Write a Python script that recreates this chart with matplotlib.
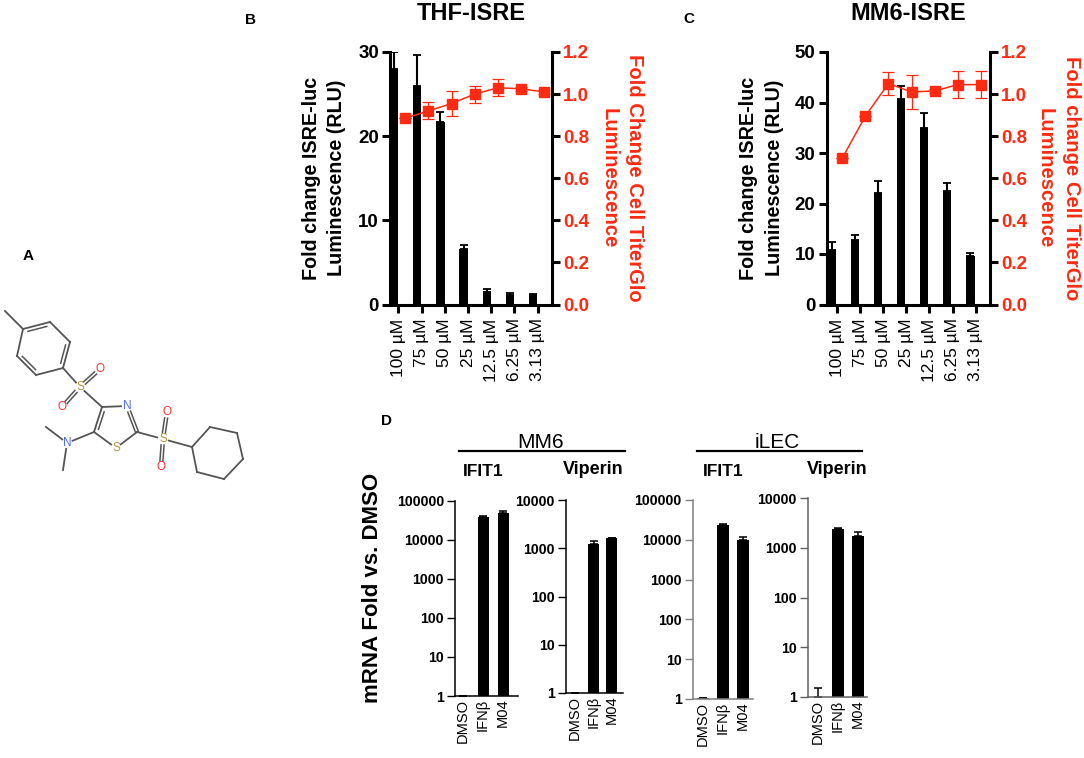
import matplotlib
matplotlib.use("Agg")
import matplotlib.pyplot as plt

plt.rcParams["font.family"] = ["Liberation Sans", "DejaVu Sans"]

W, H = 1084, 758
RED = "#FF2A12"

# ── panel B / C data ─────────────────────────────
DOSES = ["100 µM", "75 µM", "50 µM", "25 µM", "12.5 µM", "6.25 µM", "3.13 µM"]

THF_BARS = [28.0, 26.0, 21.7, 6.6, 1.5, 1.1, 1.1]
THF_BAR_TOPS = [30.0, 29.6, 22.9, 7.1, 1.8, 1.4, 1.3]
THF_RED = [0.885, 0.92, 0.955, 1.0, 1.03, 1.025, 1.01]
THF_RED_ERR = [0.0, 0.04, 0.06, 0.04, 0.04, 0.01, 0.01]

MM6_BARS = [10.7, 12.7, 22.0, 40.6, 35.0, 22.4, 9.6]
MM6_BAR_TOPS = [12.4, 13.7, 24.4, 43.2, 37.9, 24.0, 10.2]
MM6_RED = [0.695, 0.895, 1.05, 1.01, 1.015, 1.045, 1.045]
MM6_RED_ERR = [0.0, 0.0, 0.055, 0.08, 0.01, 0.065, 0.065]

RED_TICKS = [0.0, 0.2, 0.4, 0.6, 0.8, 1.0, 1.2]

# ── panel D data ─────────────────────────────────
TREATMENTS = ["DMSO", "IFNβ", "M04"]
MM6_IFIT1 = [1.0, 38000, 48000]
MM6_IFIT1_TOPS = [1.0, 40000, 56000]
MM6_VIPERIN = [1.0, 1250, 1600]
MM6_VIPERIN_TOPS = [1.0, 1400, 1650]
ILEC_IFIT1 = [1.05, 23000, 9800]
ILEC_IFIT1_TOPS = [1.08, 25000, 12000]
ILEC_VIPERIN = [1.0, 2350, 1700]
ILEC_VIPERIN_TOPS = [1.55, 2450, 2050]

# ── panel A structure, pixel positions ────
ATOMS = {
    "me": (5, 311), "c1": (23, 329), "c2": (50, 322), "c3": (70, 342),
    "c4": (63, 368), "c5": (36, 375), "c6": (17, 356),
    "S1": (80, 387), "O1": (100, 369), "O2": (62, 407),
    "c7": (102, 407), "N1": (127, 406), "c8": (137, 432),
    "S2": (116, 448), "c9": (94, 432),
    "N2": (67, 443), "m1": (46, 427), "m2": (63, 470),
    "S3": (163, 439), "O3": (167, 412), "O4": (161, 467),
    "y1": (192, 447), "y2": (210, 427), "y3": (237, 433),
    "y4": (243, 459), "y5": (224, 479), "y6": (197, 472),
}
SINGLE_BONDS = [
    ("me", "c1"), ("c2", "c3"), ("c4", "c5"), ("c6", "c1"), ("c4", "S1"),
    ("S1", "c7"), ("c7", "N1"), ("c8", "S2"), ("S2", "c9"), ("c9", "N2"),
    ("N2", "m1"), ("N2", "m2"), ("c8", "S3"), ("S3", "y1"), ("y1", "y2"),
    ("y2", "y3"), ("y3", "y4"), ("y4", "y5"), ("y5", "y6"), ("y6", "y1"),
]
DOUBLE_BONDS = [
    ("c1", "c2"), ("c3", "c4"), ("c5", "c6"), ("c7", "c9"), ("N1", "c8"),
    ("S1", "O1"), ("S1", "O2"), ("S3", "O3"), ("S3", "O4"),
]
ATOM_COLORS = {"S": "#B8963A", "O": "#FF3030", "N": "#4F6FF0"}


def px_axes(fig, x0, x1, y0, y1):
    """Axes from pixel edges, y counted from the top of the image."""
    return fig.add_axes([x0 / W, 1 - y1 / H, (x1 - x0) / W, (y1 - y0) / H])


def draw_molecule(ax):
    def end_points(a, b):
        (xa, ya), (xb, yb) = ATOMS[a], ATOMS[b]
        dx, dy = xb - xa, yb - ya
        length = (dx ** 2 + dy ** 2) ** 0.5
        ux, uy = dx / length, dy / length
        ga = 6 if a[0].isupper() else 0
        gb = 6 if b[0].isupper() else 0
        return xa + ux * ga, ya + uy * ga, xb - ux * gb, yb - uy * gb, -uy, ux

    for a, b in SINGLE_BONDS:
        xa, ya, xb, yb, _, _ = end_points(a, b)
        ax.plot([xa, xb], [ya, yb], color="#555555", lw=1.3)
    for a, b in DOUBLE_BONDS:
        xa, ya, xb, yb, nx, ny = end_points(a, b)
        if a[0] == "c" and b[0] == "c":
            # ring bond, second stroke is shorter and sits inside
            ax.plot([xa, xb], [ya, yb], color="#555555", lw=1.3)
            cx, cy = sum(ATOMS[k][0] for k in ("c1", "c3", "c5")) / 3, sum(ATOMS[k][1] for k in ("c1", "c3", "c5")) / 3
            if a == "c7":
                cx, cy = ATOMS["S2"][0], ATOMS["N1"][1]
            mx, my = (xa + xb) / 2, (ya + yb) / 2
            s = 1 if (cx - mx) * nx + (cy - my) * ny > 0 else -1
            ax.plot([xa * 0.85 + xb * 0.15 + s * nx * 3.5, xa * 0.15 + xb * 0.85 + s * nx * 3.5],
                    [ya * 0.85 + yb * 0.15 + s * ny * 3.5, ya * 0.15 + yb * 0.85 + s * ny * 3.5],
                    color="#555555", lw=1.1)
        else:
            for s in (-1.5, 1.5):
                ax.plot([xa + s * nx, xb + s * nx], [ya + s * ny, yb + s * ny], color="#555555", lw=1.1)
    for name, (x, y) in ATOMS.items():
        if name[0].isupper():
            ax.text(x, y, name[0], color=ATOM_COLORS[name[0]], fontsize=8.5,
                    ha="center", va="center")


def dual_panel(fig, box, xlim, bars, tops, red, red_err, ymax, yticks, left_label, right_label,
               tick_off, red_off, left_pad, right_pad):
    ax = px_axes(fig, *box)
    x = list(range(len(DOSES)))
    errs = [t - v for t, v in zip(tops, bars)]
    ax.bar(x, bars, width=0.36, color="black")
    ax.errorbar(x, bars, yerr=[[0] * len(x), errs], fmt="none", ecolor="black",
                elinewidth=1.5, capsize=2.6, capthick=1.3)
    ax.set_xlim(*xlim)
    ax.set_ylim(0, ymax)
    ax.set_yticks(yticks)
    ax.set_xticks([i + tick_off for i in x])
    ax.set_xticklabels(DOSES, rotation=90, fontsize=12.5)
    ax.tick_params(axis="both", width=2.2, length=6)
    ax.tick_params(axis="x", pad=4)
    ax.tick_params(axis="y", labelsize=13.5, pad=2)
    for t in ax.get_yticklabels():
        t.set_fontweight("bold")
    ax.spines["top"].set_visible(False)
    ax.spines["right"].set_visible(False)
    ax.spines["left"].set_linewidth(2.2)
    ax.spines["bottom"].set_linewidth(2.2)
    ax.set_ylabel(left_label, fontsize=14.2, fontweight="bold", labelpad=left_pad, linespacing=1.45)

    ax2 = ax.twinx()
    ax2.set_ylim(0, 1.2)
    ax2.set_yticks(RED_TICKS)
    ax2.errorbar([i + red_off for i in x], red, yerr=red_err, color=RED, lw=1.1, marker="s",
                 markersize=7, elinewidth=0.9, capsize=4, capthick=0.9)
    ax2.tick_params(axis="y", width=2.2, length=6, labelsize=13.5, labelcolor=RED, pad=2)
    for t in ax2.get_yticklabels():
        t.set_fontweight("bold")
    for name in ("top", "left", "bottom"):
        ax2.spines[name].set_visible(False)
    ax2.spines["right"].set_linewidth(2.2)
    ax2.set_ylabel(right_label, color=RED, fontsize=14.6, fontweight="bold", rotation=270,
                   labelpad=right_pad, linespacing=1.45)


def log_panel(fig, box, xlim, values, tops, ymax, width, spine_color="black"):
    ax = px_axes(fig, *box)
    x = list(range(len(TREATMENTS)))
    errs = [t - v for t, v in zip(tops, values)]
    ax.set_yscale("log")
    ax.bar(x, values, width=width, color="black")
    ax.errorbar(x, values, yerr=[[0] * len(x), errs], fmt="none", ecolor="black",
                elinewidth=1.1, capsize=2.8, capthick=1.1)
    ax.set_xlim(*xlim)
    ax.set_ylim(1, ymax)
    ticks, v = [], 1
    while v <= ymax:
        ticks.append(v)
        v *= 10
    ax.set_yticks(ticks)
    ax.set_yticklabels([str(t) for t in ticks], fontsize=10.2, fontweight="bold")
    ax.minorticks_off()
    ax.set_xticks(x)
    ax.set_xticklabels(TREATMENTS, rotation=90, fontsize=10.5)
    ax.tick_params(axis="x", length=0, pad=2)
    ax.tick_params(axis="y", length=6, width=1.0, pad=2, color=spine_color)
    ax.spines["top"].set_visible(False)
    ax.spines["right"].set_visible(False)
    ax.spines["left"].set_linewidth(1.1)
    ax.spines["left"].set_color(spine_color)
    ax.spines["bottom"].set_linewidth(1.1)
    ax.spines["bottom"].set_color(spine_color)


def main():
    fig = plt.figure(figsize=(W / 100, H / 100), dpi=100)

    overlay = fig.add_axes([0, 0, 1, 1], zorder=-1)
    overlay.set_xlim(0, W)
    overlay.set_ylim(H, 0)
    overlay.axis("off")
    draw_molecule(overlay)

    dual_panel(fig, (390, 551.7, 52, 304.5), (-0.172, 6.797), THF_BARS, THF_BAR_TOPS, THF_RED,
               THF_RED_ERR, 30, [0, 10, 20, 30],
               "Fold change ISRE-luc\nLuminescence (RLU)", "Fold Change Cell TiterGlo\nLuminescence",
               0.19, 0.48, 8.5, 40)
    dual_panel(fig, (826.7, 990, 52, 304.5), (-0.216, 6.85), MM6_BARS, MM6_BAR_TOPS, MM6_RED,
               MM6_RED_ERR, 50, [0, 10, 20, 30, 40, 50],
               "Fold change ISRE-luc\nLuminescence (RLU)", "Fold change Cell TiterGlo\nLuminescence",
               0.23, 0.455, 8, 38.5)

    log_panel(fig, (455, 518, 500.7, 696), (-0.4, 2.75), MM6_IFIT1, MM6_IFIT1_TOPS, 100000, 0.55)
    log_panel(fig, (566, 623, 500, 693), (-0.5, 2.6), MM6_VIPERIN, MM6_VIPERIN_TOPS, 10000, 0.6)
    log_panel(fig, (692.7, 752.7, 500, 699), (-0.5, 2.5), ILEC_IFIT1, ILEC_IFIT1_TOPS, 100000, 0.58, "#808080")
    log_panel(fig, (808, 867, 498, 697), (-0.5, 2.45), ILEC_VIPERIN, ILEC_VIPERIN_TOPS, 10000, 0.58, "#606060")

    def label(x, y, s, **kw):
        overlay.text(x, y, s, ha="center", va="center", **kw)

    label(28, 256, "A", fontsize=11, fontweight="bold")
    label(250, 20, "B", fontsize=11, fontweight="bold")
    label(689, 19, "C", fontsize=11, fontweight="bold")
    label(387, 421, "D", fontsize=11, fontweight="bold")
    label(471, 13, "THF-ISRE", fontsize=17, fontweight="bold")
    label(908, 13, "MM6-ISRE", fontsize=17, fontweight="bold")
    label(541, 442, "MM6", fontsize=15)
    label(777, 442, "iLEC", fontsize=15)
    overlay.plot([459, 625], [451, 451], color="black", lw=1.6)
    overlay.plot([697, 862], [451, 451], color="black", lw=1.6)
    label(483, 471, "IFIT1", fontsize=12.5, fontweight="bold")
    label(593, 470, "Viperin", fontsize=13, fontweight="bold")
    label(723, 472, "IFIT1", fontsize=12.5, fontweight="bold")
    label(837, 470, "Viperin", fontsize=13, fontweight="bold")
    label(372, 588, "mRNA Fold vs. DMSO", fontsize=16, fontweight="bold", rotation=90)

    fig.savefig("out.png", dpi=100)


if __name__ == "__main__":
    main()
